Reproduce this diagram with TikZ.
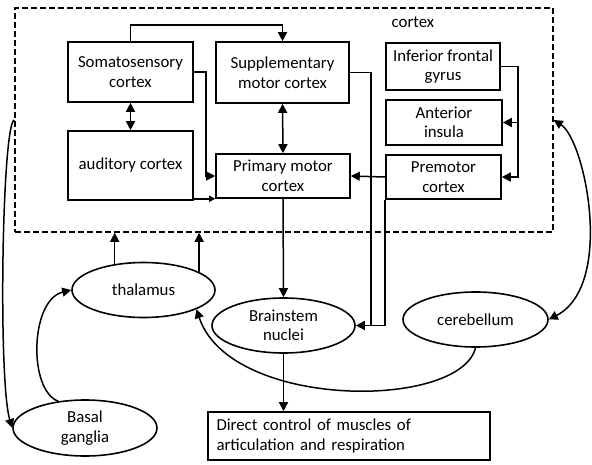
\documentclass[tikz,border=0pt]{standalone}
\usepackage{fontspec}
\setmainfont{Carlito}
\usetikzlibrary{arrows.meta,shapes.geometric,calc}
\begin{document}
\begin{tikzpicture}[x=1pt,y=-1pt,
  font=\fontsize{16.8}{19.5}\selectfont,
  box/.style={draw,line width=1.6pt,inner sep=0pt,align=center},
  oval/.style={draw,ellipse,line width=1.6pt,inner sep=0pt,minimum width=143pt,minimum height=55pt,align=center},
  conn/.style={line width=1.5pt},
  arr/.style={conn,-{Triangle[length=9pt,width=9pt]}},
  sarr/.style={conn,-{Triangle[length=6pt,width=6pt]}},
  darr/.style={conn,{Triangle[length=9pt,width=9pt]}-{Triangle[length=9pt,width=9pt]}},
  ]
\useasboundingbox (0,0) rectangle (592,464);
\node[draw,dash pattern=on 6pt off 3pt,line width=1.5pt,minimum width=538pt,minimum height=224pt,inner sep=0pt] (cortex) at (284,120) {};
\node (cortexlbl) at (413,22) {cortex};
\node[box,minimum width=125pt,minimum height=60pt] (soma) at (130.5,72) {Somatosensory\\cortex};
\node[box,minimum width=133pt,minimum height=61pt] (supp) at (282.5,72.5) {Supplementary\\motor cortex};
\node[box,minimum width=114pt,minimum height=47pt] (ifg) at (443,66.5) {Inferior frontal\\gyrus};
\node[box,minimum width=116pt,minimum height=45pt] (ins) at (444,122.5) {Anterior\\insula};
\node[box,minimum width=115pt,minimum height=44pt] (pre) at (443.5,177) {Premotor\\cortex};
\node[box,minimum width=125pt,minimum height=69pt] (aud) at (130.5,165.5) {auditory cortex};
\node[box,minimum width=134pt,minimum height=44pt] (prim) at (283,176) {Primary motor\\cortex};
\node[draw,line width=1.6pt,minimum width=282pt,minimum height=48pt,text width=265pt,inner xsep=8.5pt,inner ysep=0pt,align=left] (direct) at (349,436) {Direct control of muscles of\\articulation and respiration};
\node[oval] (thal) at (143.5,290) {thalamus};
\node[oval] (bs) at (283.5,325.5) {Brainstem\\nuclei};
\node[oval,minimum width=145pt] (cer) at (475.5,319.5) {cerebellum};
\node[oval,minimum width=144pt,minimum height=56pt] (basal) at (85,428) {Basal\\ganglia};
\coordinate (jx) at (371,0);
\coordinate (kx) at (518,0);
% cortex internal connectors
\draw[arr] (soma.north) -- ++(0,-16) -| (supp.north);
\draw[arr] (soma.east) -- ++(12,0) |- (prim.west);
\draw[sarr] (aud.east |- prim.south west) -- (prim.south west);
\draw[darr] (soma.south) -- (aud.north);
\draw[darr] (supp.south) -- (prim.north);
\draw[conn] (supp.east) -| (bs.east -| jx);
\draw[arr] (pre.south west) |- (bs.east);
\draw[arr] (pre.west) -- (prim.east);
\draw[arr] (ifg.east) -| (pre.east -| kx) -- (pre.east);
\draw[arr] (ins.east -| kx) -- (ins.east);
% vertical flow
\draw[arr] (prim.south) -- (bs.north);
\draw[arr] (bs.south) -- (bs.south |- direct.north);
\draw[arr] (thal.138) -- (thal.138 |- cortex.south);
\draw[arr] (thal.18) -- (thal.18 |- cortex.south);
% curves
\draw[arr] (basal.135) .. controls (28,390) and (30,300) .. (thal.west);
\draw[arr] (cortex.west) .. controls (2,125) and (-2,380) .. (basal.west);
\draw[darr] (cortex.east) .. controls (585,140) and (615,285) .. (cer.east);
\draw[arr] (cer.south) .. controls (460,410) and (230,410) .. (thal.-20);
\end{tikzpicture}
\end{document}
